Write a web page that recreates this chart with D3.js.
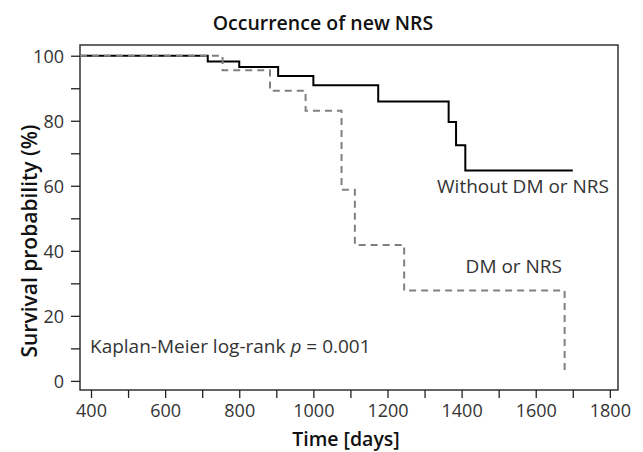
<!DOCTYPE html>
<html><head><meta charset="utf-8">
<script src="https://cdn.jsdelivr.net/npm/d3@7"></script>
<style>body{margin:0;background:#fff}svg{display:block}text{font-family:"Open Sans",sans-serif}</style>
</head><body>
<script>
// Data (days, survival %)
const noDmTimes = [370, 715, 800, 905, 1000, 1175, 1365, 1385, 1410, 1700];
const noDmSurv  = [100, 98.2, 96.5, 93.8, 90.9, 85.9, 79.6, 72.5, 64.7, 64.7];
const dmTimes   = [370, 755, 883, 979, 1076, 1112, 1245, 1678, 1678];
const dmSurv    = [100, 95.5, 89.2, 83.1, 58.8, 41.8, 27.8, 27.8, 2];
const xTicks = [400,500,600,700,800,900,1000,1100,1200,1300,1400,1500,1600,1700,1800];
const yTicks = [0,10,20,30,40,50,60,70,80,90,100];
const labels = {title:"Occurrence of new NRS", x:"Time [days]", y:"Survival probability (%)",
  noDm:"Without DM or NRS", dm:"DM or NRS"};

const W=643,H=452;
const svg=d3.select("body").append("svg").attr("width",W).attr("height",H);
const x=d3.scaleLinear().domain([370.3,1822]).range([80,618]);
const y=d3.scaleLinear().domain([-2.8,103.3]).range([390,45]);

// frame
svg.append("rect").attr("x",80).attr("y",45).attr("width",538).attr("height",345)
  .attr("fill","none").attr("stroke","#333").attr("stroke-width",1.5);

// axes
const yAxis=d3.axisLeft(y).tickValues(yTicks).tickSize(9)
  .tickFormat(d=>d%20===0?d:"");
const gy=svg.append("g").attr("transform","translate(80,0)").call(yAxis);
gy.select(".domain").remove();
gy.selectAll("line").attr("stroke","#222").attr("stroke-width",1.3);
gy.selectAll("text").attr("font-size",18).attr("fill","#333").attr("x",-16).attr("dy","0.35em");

const xAxis=d3.axisBottom(x).tickValues(xTicks).tickSize(8)
  .tickFormat(d=>d%200===0?d:"");
const gx=svg.append("g").attr("transform","translate(0,390)").call(xAxis);
gx.select(".domain").remove();
gx.selectAll("line").attr("stroke","#222").attr("stroke-width",1.3);
gx.selectAll("text").attr("font-size",18).attr("fill","#333").attr("y",14);

// curves
const line=d3.line().x(d=>x(d[0])).y(d=>y(d[1])).curve(d3.curveStepAfter);
const solid=noDmTimes.map((t,i)=>[t,noDmSurv[i]]);
const dashed=dmTimes.map((t,i)=>[t,dmSurv[i]]);
svg.append("path").datum(solid).attr("d",line).attr("fill","none")
  .attr("stroke","#000").attr("stroke-width",2);
svg.append("path").datum(dashed).attr("d",line).attr("fill","none")
  .attr("stroke","#808080").attr("stroke-width",2).attr("stroke-dasharray","7,5");

// texts
svg.append("text").attr("x",323).attr("y",30).attr("text-anchor","middle")
  .attr("font-size",19.5).attr("font-weight",600).attr("fill","#111").text(labels.title);
svg.append("text").attr("x",346).attr("y",446).attr("text-anchor","middle")
  .attr("font-size",19.5).attr("font-weight",600).attr("fill","#111").text(labels.x);
svg.append("text").attr("transform","translate(37,241) rotate(-90)").attr("text-anchor","middle")
  .attr("font-size",21).attr("font-weight",600).attr("fill","#111").text(labels.y);
svg.append("text").attr("x",609).attr("y",193).attr("text-anchor","end")
  .attr("font-size",19).attr("fill","#333").text(labels.noDm);
svg.append("text").attr("x",562).attr("y",273).attr("text-anchor","end")
  .attr("font-size",19).attr("fill","#333").text(labels.dm);
const km=svg.append("text").attr("x",90).attr("y",353)
  .attr("font-size",19).attr("fill","#333");
km.append("tspan").text("Kaplan-Meier log-rank ");
km.append("tspan").attr("font-style","italic").text("p");
km.append("tspan").text(" = 0.001");
</script>
</body></html>
